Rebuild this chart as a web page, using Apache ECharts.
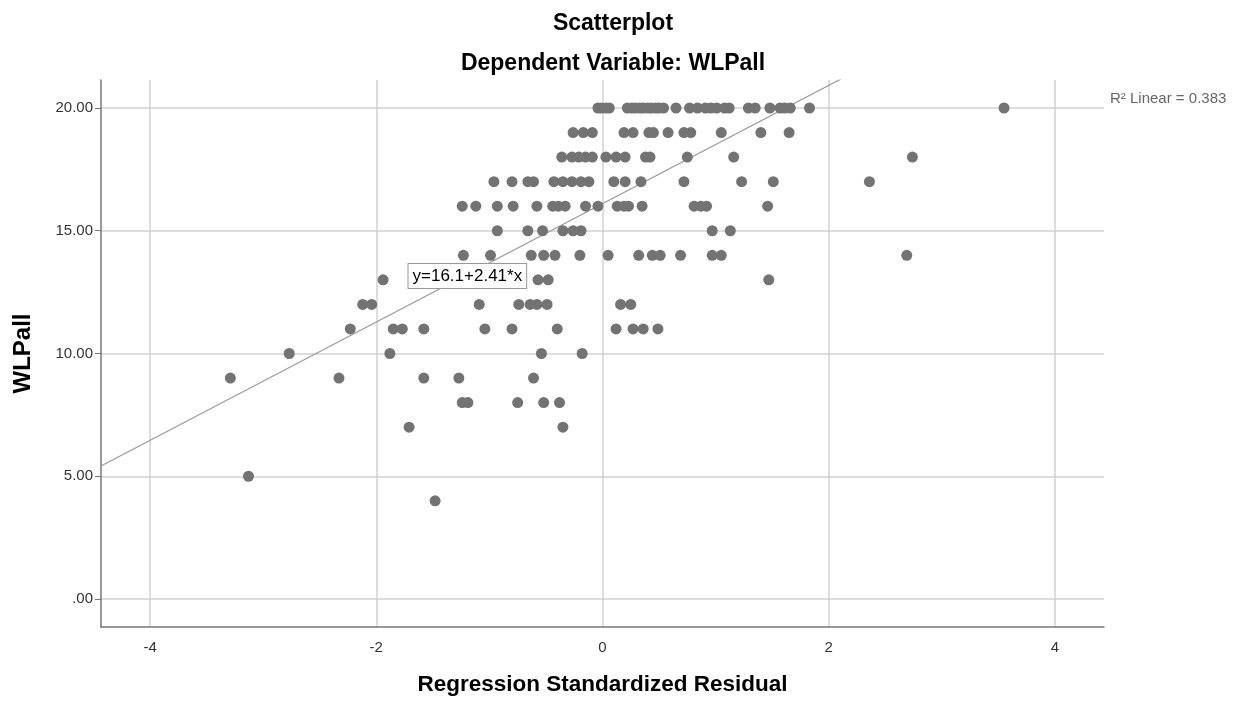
<!DOCTYPE html>
<html>
<head>
<meta charset="utf-8">
<script src="https://cdn.jsdelivr.net/npm/echarts@6/dist/echarts.min.js"></script>
<style>
html, body { margin: 0; padding: 0; background: #fff; }
#chart { width: 1239px; height: 703px; }
</style>
</head>
<body>
<div id="chart"></div>
<script>
// WLPall level -> regression standardized residuals
var resid20 = [-0.04, -0.01, 0.03, 0.06, 0.22, 0.26, 0.29, 0.33, 0.36, 0.40, 0.43, 0.47, 0.50, 0.54, 0.65, 0.77, 0.84, 0.91, 0.96, 1.01, 1.08, 1.12, 1.29, 1.35, 1.48, 1.57, 1.61, 1.66, 1.83, 3.55];
var resid19 = [-0.26, -0.17, -0.09, 0.19, 0.27, 0.41, 0.45, 0.58, 0.72, 0.78, 1.05, 1.40, 1.65];
var resid18 = [-0.36, -0.27, -0.21, -0.15, -0.09, 0.03, 0.12, 0.20, 0.38, 0.42, 0.75, 1.16, 2.74];
var resid17 = [-0.96, -0.80, -0.66, -0.61, -0.43, -0.35, -0.27, -0.19, -0.12, 0.10, 0.20, 0.34, 0.72, 1.23, 1.51, 2.36];
var resid16 = [-1.24, -1.12, -0.93, -0.79, -0.58, -0.44, -0.39, -0.33, -0.15, -0.04, 0.13, 0.19, 0.23, 0.35, 0.81, 0.87, 0.92, 1.46];
var resid15 = [-0.93, -0.66, -0.53, -0.35, -0.26, -0.19, 0.97, 1.13];
var resid14 = [-1.23, -0.99, -0.63, -0.52, -0.42, -0.20, 0.05, 0.32, 0.44, 0.51, 0.69, 0.97, 1.05, 2.69];
var resid13 = [-1.94, -0.57, -0.48, 1.47];
var resid12 = [-2.12, -2.04, -1.09, -0.74, -0.64, -0.58, -0.49, 0.16, 0.25];
var resid11 = [-2.23, -1.85, -1.77, -1.58, -1.04, -0.80, -0.40, 0.12, 0.27, 0.36, 0.49];
var resid10 = [-2.77, -1.88, -0.54, -0.18];
var resid9 = [-3.29, -2.33, -1.58, -1.27, -0.61];
var resid8 = [-1.24, -1.19, -0.75, -0.52, -0.38];
var resid7 = [-1.71, -0.35];
var resid5 = [-3.13];
var resid4 = [-1.48];

var levels = [20, 19, 18, 17, 16, 15, 14, 13, 12, 11, 10, 9, 8, 7, 5, 4];
var residByLevel = [resid20, resid19, resid18, resid17, resid16, resid15, resid14, resid13, resid12, resid11, resid10, resid9, resid8, resid7, resid5, resid4];

var xTicks = [-4, -2, 0, 2, 4];
var yTicks = [0, 5, 10, 15, 20];

// fit line
var intercept = 16.1, slope = 2.41;
var r2 = 0.383;

var xMin = -4.434, xMax = 4.434, yMin = -1.14, yMax = 21.14;
var font = 'Arial, "Liberation Sans", sans-serif';

var points = [];
levels.forEach(function (lv, i) {
    residByLevel[i].forEach(function (r) {
        points.push([r, lv]);
    });
});

var fitLine = [xMin, xMax].map(function (x) {
    return [x, intercept + slope * x];
});

var chart = echarts.init(document.getElementById('chart'));
var opt = {
    animation: false,
    title: [{
        text: 'Scatterplot',
        left: 608, top: 7, textAlign: 'center',
        textStyle: { fontFamily: font, fontSize: 23, fontWeight: 'bold', color: '#000' }
    }, {
        text: 'Dependent Variable: WLPall',
        left: 608, top: 47, textAlign: 'center',
        textStyle: { fontFamily: font, fontSize: 23, fontWeight: 'bold', color: '#000' }
    }, {
        text: 'R\u00b2 Linear = ' + r2,
        left: 1105, top: 86,
        textStyle: { fontFamily: font, fontSize: 15, fontWeight: 'normal', color: '#666' }
    }],
    grid: { left: 101, right: 135, top: 80, bottom: 76 },
    xAxis: {
        type: 'value', min: xMin, max: xMax,
        name: 'Regression Standardized Residual',
        nameLocation: 'middle', nameGap: 46,
        nameTextStyle: { fontFamily: font, fontSize: 22.5, fontWeight: 'bold', color: '#000' },
        axisLine: { onZero: false, lineStyle: { color: '#777', width: 1.5 } },
        axisTick: { show: false, customValues: xTicks },
        axisLabel: { customValues: xTicks, margin: 13, fontFamily: font, fontSize: 15, color: '#333' },
        splitLine: { show: true, lineStyle: { color: '#d2d2d2', width: 1.5 } }
    },
    yAxis: {
        type: 'value', min: yMin, max: yMax,
        name: 'WLPall',
        nameLocation: 'middle', nameGap: 66,
        nameTextStyle: { fontFamily: font, fontSize: 24, fontWeight: 'bold', color: '#000' },
        axisLine: { onZero: false, lineStyle: { color: '#777', width: 1.5 } },
        axisTick: { show: true, length: 6, customValues: yTicks, lineStyle: { color: '#777' } },
        axisLabel: {
            customValues: yTicks, margin: 8, fontFamily: font, fontSize: 15, color: '#333',
            formatter: function (v) { return v === 0 ? '.00' : v.toFixed(2); }
        },
        splitLine: { show: true, lineStyle: { color: '#d2d2d2', width: 1.5 } }
    },
    series: [{
        name: 'Fit',
        type: 'line',
        data: fitLine,
        symbol: 'none',
        clip: true,
        lineStyle: { color: '#9a9a9a', width: 1.2 },
        z: 2,
        markPoint: {
            symbol: 'rect', symbolSize: 1,
            itemStyle: { color: 'rgba(0,0,0,0)' },
            data: [{ coord: [-1.195, 13.16] }],
            label: {
                show: true, position: 'inside',
                formatter: 'y=' + intercept + '+' + slope + '*x',
                backgroundColor: '#fff', borderColor: '#999', borderWidth: 1,
                padding: [4, 4, 3, 4],
                fontFamily: font, fontSize: 17, color: '#000'
            },
            z: 5
        }
    }, {
        name: 'WLPall',
        type: 'scatter',
        data: points,
        symbolSize: 11,
        itemStyle: { color: '#737373', opacity: 1 },
        z: 3
    }]
};
chart.setOption(opt);
</script>
</body>
</html>
